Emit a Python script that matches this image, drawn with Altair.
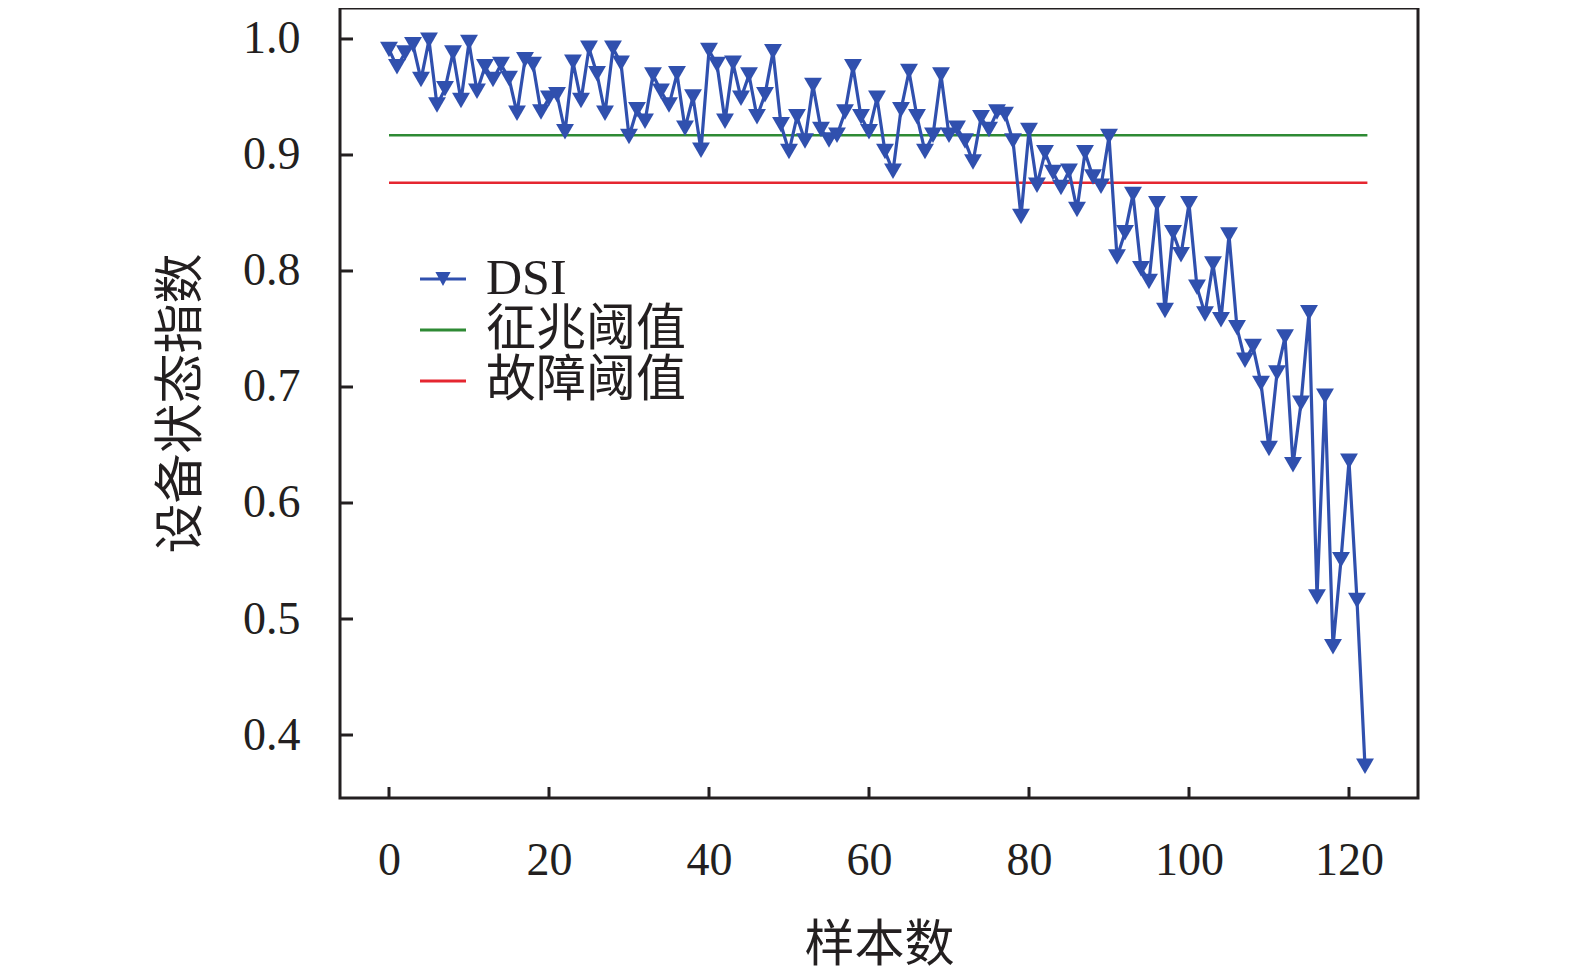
import altair as alt
import pandas as pd

# ---- data ----
DSI = [0.991, 0.976, 0.988, 0.995, 0.965, 0.999, 0.943, 0.957, 0.988, 0.947,
       0.997, 0.955, 0.976, 0.965, 0.978, 0.966, 0.936, 0.982, 0.978, 0.937,
       0.949, 0.952, 0.920, 0.980, 0.947, 0.992, 0.970, 0.936, 0.992, 0.979,
       0.916, 0.939, 0.929, 0.969, 0.955, 0.943, 0.970, 0.923, 0.950, 0.904,
       0.990, 0.978, 0.929, 0.979, 0.949, 0.969, 0.933, 0.952, 0.989, 0.926,
       0.903, 0.933, 0.912, 0.960, 0.922, 0.913, 0.917, 0.937, 0.976, 0.933,
       0.920, 0.949, 0.903, 0.886, 0.939, 0.972, 0.933, 0.903, 0.917, 0.969,
       0.917, 0.923, 0.912, 0.894, 0.932, 0.922, 0.937, 0.935, 0.912, 0.847,
       0.921, 0.874, 0.902, 0.885, 0.872, 0.886, 0.853, 0.902, 0.881, 0.873,
       0.916, 0.812, 0.833, 0.866, 0.802, 0.791, 0.858, 0.766, 0.833, 0.814,
       0.858, 0.786, 0.763, 0.806, 0.758, 0.831, 0.751, 0.723, 0.735, 0.703,
       0.647, 0.712, 0.743, 0.633, 0.686, 0.764, 0.519, 0.692, 0.476, 0.551,
       0.636, 0.516, 0.373]
SAMPLES = list(range(len(DSI)))

SERIES = ["DSI", "征兆阈值", "故障阈值"]
THRESH_VALUES = [0.917, 0.876]
THRESH_START = [0, 0]
THRESH_END = [122.3, 122.3]

XTICKS = [0, 20, 40, 60, 80, 100, 120]
YTICKS = [0.4, 0.5, 0.6, 0.7, 0.8, 0.9, 1.0]

BLUE = "#3050AE"
GREEN = "#2E8A34"
RED = "#E52630"
INK = "#231F20"
FONT = "Liberation Serif, 'Noto Sans CJK SC'"

W, H = 1078, 790

df = pd.DataFrame({"x": SAMPLES, "v": DSI})
thr = pd.DataFrame({"series": SERIES[1:], "v": THRESH_VALUES,
                    "x0": THRESH_START, "x1": THRESH_END})
xt = pd.DataFrame({"t": XTICKS})
yt = pd.DataFrame({"t": YTICKS})
leg = pd.DataFrame({"series": SERIES})

xscale = alt.Scale(domain=[-6.125, 128.625], nice=False, zero=False)
yscale = alt.Scale(domain=[0.3457, 1.0267], nice=False, zero=False)

xaxis = alt.Axis(values=XTICKS, ticks=False, domain=False, grid=False,
                 labelFontSize=46, labelPadding=40, labelFont=FONT,
                 labelColor=INK, title="样本数", titleFontSize=50,
                 titleFont=FONT, titleFontWeight="normal", titleColor=INK,
                 titlePadding=37)
yaxis = alt.Axis(values=YTICKS, format=".1f", ticks=False, domain=False,
                 grid=False, labelFontSize=46, labelPadding=40,
                 labelFont=FONT, labelColor=INK, title="设备状态指数",
                 titleFontSize=50, titleFont=FONT, titleFontWeight="normal",
                 titleColor=INK, titlePadding=36)

x = alt.X("x:Q", scale=xscale, axis=xaxis)
y = alt.Y("v:Q", scale=yscale, axis=yaxis)

thr_rules = alt.Chart(thr).mark_rule(strokeWidth=2.6).encode(
    x=alt.X("x0:Q", scale=xscale, axis=xaxis),
    x2="x1:Q",
    y=alt.Y("v:Q", scale=yscale, axis=yaxis),
    stroke=alt.Stroke("series:N", scale=alt.Scale(domain=SERIES[1:], range=[GREEN, RED]), legend=None),
)

line = alt.Chart(df).mark_line(color=BLUE, strokeWidth=3.2).encode(x=x, y=y)
pts = alt.Chart(df).mark_point(shape="triangle-down", filled=True, color=BLUE,
                               size=320, opacity=1).encode(x=x, y=y)

xticks = alt.Chart(xt).mark_rule(color=INK, strokeWidth=3).encode(
    x=alt.X("t:Q", scale=xscale, axis=xaxis), y=alt.value(H), y2=alt.value(H - 11))
yticks = alt.Chart(yt).mark_rule(color=INK, strokeWidth=3).encode(
    y=alt.Y("t:Q", scale=yscale, axis=yaxis), x=alt.value(0), x2=alt.value(13))

PATH_DSI = "M-1,-0.065L1,-0.065L1,0.065L-1,0.065Z M-0.33,-0.3L0.33,-0.3L0,0.3Z"
PATH_LINE = "M-1,-0.065L1,-0.065L1,0.065L-1,0.065Z"

legend_layer = alt.Chart(leg).mark_point(filled=True, opacity=0).encode(
    color=alt.Color("series:N", scale=alt.Scale(domain=SERIES, range=[BLUE, GREEN, RED]),
                    legend=alt.Legend(title=None)),
    shape=alt.Shape("series:N", scale=alt.Scale(domain=SERIES, range=[PATH_DSI, PATH_LINE, PATH_LINE]),
                    legend=alt.Legend(title=None)),
)

chart = alt.layer(thr_rules, line, pts, xticks, yticks, legend_layer).resolve_scale(
    color="independent", shape="independent"
).properties(
    width=W, height=H,
    autosize=alt.AutoSizeParams(type="none"),
    padding={"left": 332, "top": 0, "right": 130, "bottom": 172},
).configure_view(
    stroke=INK, strokeWidth=3
).configure_legend(
    orient="none", legendX=78, legendY=246, labelFontSize=50, labelFont=FONT,
    labelColor=INK, symbolSize=2116, symbolOpacity=1, labelOffset=18,
    rowPadding=1, padding=0, symbolStrokeWidth=0, labelLimit=400
)

chart.save("out.html", embed_options={"renderer": "svg", "actions": False})
